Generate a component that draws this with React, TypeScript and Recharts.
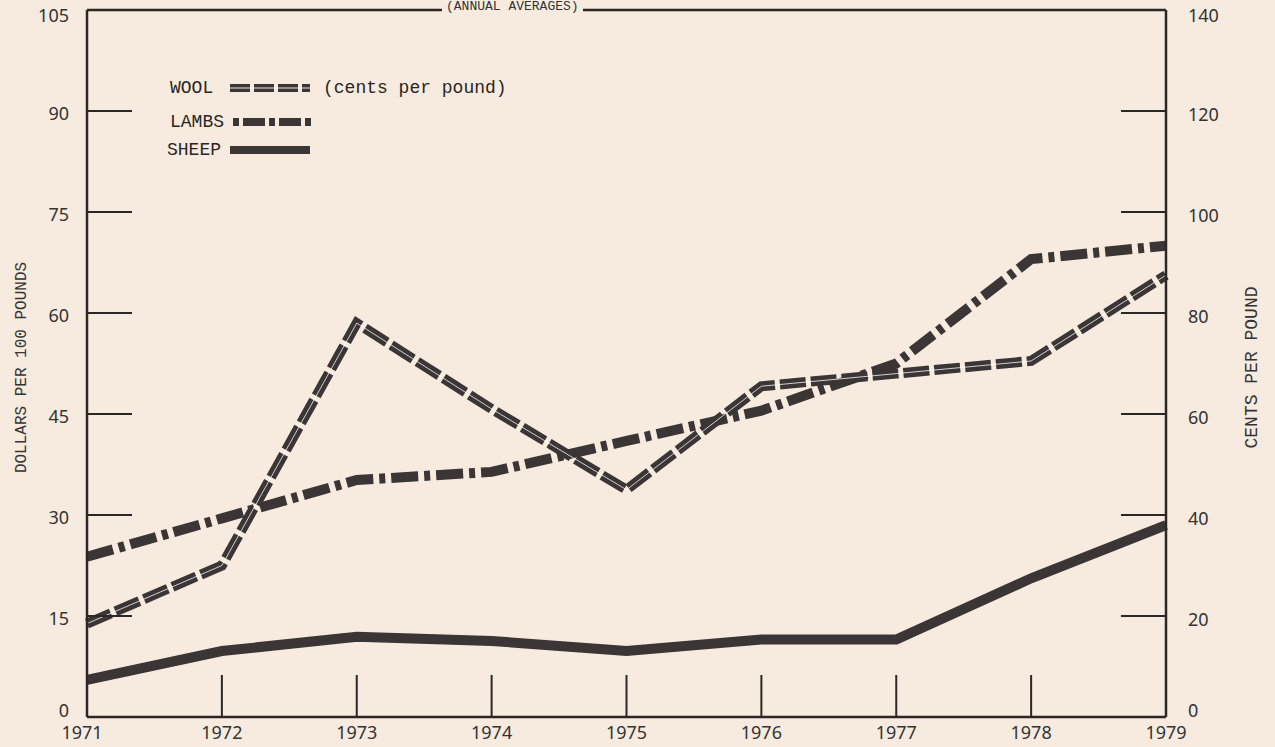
import { LineChart, Line, XAxis, YAxis, ReferenceLine, Legend } from 'recharts';

// annual averages
const years = [1971, 1972, 1973, 1974, 1975, 1976, 1977, 1978, 1979];
const woolCents = [18.5, 30, 78, 61, 45, 65.5, 68, 70.5, 87.5];
const lambsDollars = [23.8, 29.5, 35.2, 36.4, 41, 45.5, 52.5, 68, 70];
const sheepDollars = [5.5, 9.8, 11.9, 11.3, 9.8, 11.5, 11.5, 20.6, 28.5];

const dollarTicks = [0, 15, 30, 45, 60, 75, 90, 105];
const centTicks = [0, 20, 40, 60, 80, 100, 120, 140];

const INK = '#3b3536';
const AXIS = '#2c2727';
const PAPER = '#f6ebde';
const MONO = '"Liberation Mono", "DejaVu Sans Mono", monospace';
const SANS = '"Noto Sans", "Open Sans", sans-serif';

const data = years.map((year, i) => ({
  year,
  wool: woolCents[i],
  lambs: lambsDollars[i],
  sheep: sheepDollars[i],
}));

function LeftTick({ x, y, payload }: any) {
  const v = payload.value;
  const inner = v !== 0 && v !== 105;
  const dy = v === 0 ? -6 : v === 105 ? 6 : 3;
  return (
    <g>
      {inner && <line x1={x + 18} x2={x + 63} y1={y} y2={y} stroke={AXIS} strokeWidth={2} />}
      <text x={x} y={y + dy} dy="0.35em" textAnchor="end" fontFamily={SANS} fontSize={18} fill="#333">
        {v}
      </text>
    </g>
  );
}

function RightTick({ x, y, payload }: any) {
  const v = payload.value;
  const inner = v !== 0 && v !== 140;
  const dy = v === 0 ? -6 : v === 140 ? 6 : 4;
  return (
    <g>
      {inner && <line x1={x - 22} x2={x - 67} y1={y} y2={y} stroke={AXIS} strokeWidth={2} />}
      <text x={x} y={y + dy} dy="0.35em" textAnchor="start" fontFamily={SANS} fontSize={18} fill="#333">
        {v}
      </text>
    </g>
  );
}

function YearTick({ x, y, payload }: any) {
  const v = payload.value;
  const inner = v !== 1971 && v !== 1979;
  return (
    <g>
      {inner && <line x1={x} x2={x} y1={y - 9} y2={y - 51} stroke={AXIS} strokeWidth={2} />}
      <text x={v === 1971 ? x - 5 : x} y={y} dy="0.72em" textAnchor="middle" fontFamily={SANS} fontSize={18} fill="#333">
        {v}
      </text>
    </g>
  );
}

function AxisTitle({ viewBox, text, shift, size }: any) {
  const cx = viewBox.x + shift;
  const cy = viewBox.y + viewBox.height / 2 + 4;
  return (
    <text
      x={cx}
      y={cy}
      transform={`rotate(-90 ${cx} ${cy})`}
      textAnchor="middle"
      dominantBaseline="middle"
      fontFamily={MONO}
      fontSize={size}
      fill="#333"
    >
      {text}
    </text>
  );
}

const legendRows = [
  { name: 'WOOL', top: 0, left: 0, dash: '20 4', note: '(cents per pound)' },
  { name: 'LAMBS', top: 34, left: 0, dash: '6 4 22 4', note: '' },
  { name: 'SHEEP', top: 62, left: -3, dash: '', note: '' },
];

function renderLegend() {
  return (
    <div style={{ position: 'relative', width: 380, height: 90 }}>
      {legendRows.map((r) => (
        <div
          key={r.name}
          style={{
            position: 'absolute',
            top: r.top,
            left: r.left,
            height: 24,
            display: 'flex',
            alignItems: 'center',
            fontFamily: MONO,
            fontSize: 18,
            color: '#2a2525',
            whiteSpace: 'nowrap',
          }}
        >
          <span style={{ width: 60 - r.left, display: 'inline-block' }}>{r.name}</span>
          <svg width={82} height={12} style={{ marginLeft: r.name === 'LAMBS' ? 3 : 0 }}>
            <line x1={0} x2={80} y1={6} y2={6} stroke={INK} strokeWidth={8} strokeDasharray={r.dash || undefined} />
            {r.name === 'WOOL' && <line x1={0} x2={80} y1={6} y2={6} stroke="#fff" strokeWidth={0.9} />}
          </svg>
          {r.note && <span style={{ marginLeft: 11 }}>{r.note}</span>}
        </div>
      ))}
    </div>
  );
}

export default function App() {
  return (
    <div
      style={{
        position: 'fixed',
        left: 0,
        top: 0,
        width: 1275,
        height: 747,
        background: PAPER,
        overflow: 'hidden',
      }}
    >
      <LineChart width={1275} height={747} data={data} margin={{ top: 10, right: 0, bottom: 0, left: 0 }}>
        <XAxis
          dataKey="year"
          type="number"
          domain={[1971, 1979]}
          ticks={years}
          interval={0}
          height={30}
          tickSize={0}
          tickMargin={9}
          tick={<YearTick />}
          axisLine={{ stroke: AXIS, strokeWidth: 2.5 }}
          tickLine={false}
        />
        <YAxis
          yAxisId="left"
          domain={[0, 105]}
          ticks={dollarTicks}
          interval={0}
          width={87}
          tickSize={0}
          tickMargin={18}
          tick={<LeftTick />}
          axisLine={{ stroke: AXIS, strokeWidth: 2.5 }}
          tickLine={false}
          label={<AxisTitle text="DOLLARS PER 100 POUNDS" shift={22} size={16} />}
        />
        <YAxis
          yAxisId="right"
          orientation="right"
          domain={[0, 140]}
          ticks={centTicks}
          interval={0}
          width={109}
          tickSize={0}
          tickMargin={22}
          tick={<RightTick />}
          axisLine={{ stroke: AXIS, strokeWidth: 2.5 }}
          tickLine={false}
          label={<AxisTitle text="CENTS PER POUND" shift={86} size={18} />}
        />
        <ReferenceLine yAxisId="left" y={105} stroke={AXIS} strokeWidth={2.5} />
        <Legend
          layout="horizontal"
          verticalAlign="middle"
          align="center"
          content={renderLegend}
          wrapperStyle={{ left: 170, top: 76, width: 380, height: 90 }}
        />
        <Line
          yAxisId="left"
          dataKey="sheep"
          name="SHEEP"
          stroke={INK}
          strokeWidth={10}
          dot={false}
          activeDot={false}
          isAnimationActive={false}
        />
        <Line
          yAxisId="left"
          dataKey="lambs"
          name="LAMBS"
          stroke={INK}
          strokeWidth={10}
          strokeDasharray="27 6 6 6"
          dot={false}
          activeDot={false}
          isAnimationActive={false}
        />
        <Line
          yAxisId="right"
          dataKey="wool"
          name="WOOL"
          stroke={INK}
          strokeWidth={10}
          strokeDasharray="26 5"
          dot={false}
          activeDot={false}
          isAnimationActive={false}
        />
        <Line
          yAxisId="right"
          dataKey="wool"
          legendType="none"
          stroke="#ffffff"
          strokeOpacity={0.85}
          strokeWidth={0.9}
          dot={false}
          activeDot={false}
          isAnimationActive={false}
        />
      </LineChart>
      <div
        style={{
          position: 'absolute',
          left: 442,
          top: 0,
          fontFamily: MONO,
          fontSize: 13,
          lineHeight: '13px',
          color: '#333',
          whiteSpace: 'nowrap',
          background: PAPER,
          padding: '0 4px',
        }}
      >
        (ANNUAL AVERAGES)
      </div>
    </div>
  );
}
